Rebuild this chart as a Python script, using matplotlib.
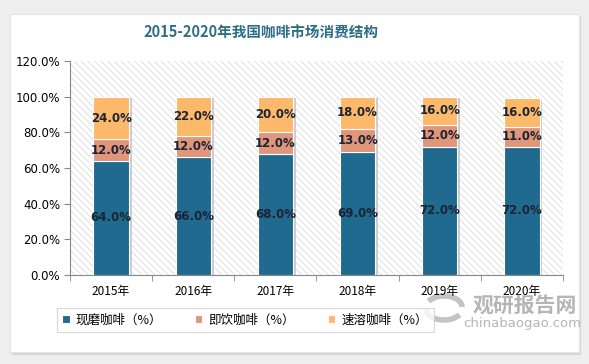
import matplotlib.pyplot as plt
from matplotlib.patches import Rectangle, Arc
import numpy as np

plt.rcParams["font.family"] = ["Noto Sans CJK SC", "DejaVu Sans"]
plt.rcParams["hatch.linewidth"] = 0.6

years = ["2015年", "2016年", "2017年", "2018年", "2019年", "2020年"]
fresh = [64, 66, 68, 69, 72, 72]      # 现磨咖啡
ready = [12, 12, 12, 13, 12, 11]      # 即饮咖啡
instant = [24, 22, 20, 18, 16, 16]    # 速溶咖啡
series_names = ["现磨咖啡（%）", "即饮咖啡（%）", "速溶咖啡（%）"]
colors = ["#1f6a8e", "#e0967a", "#fdb96a"]

W, H = 589, 364
fig = plt.figure(figsize=(W / 100, H / 100), dpi=100)
fig.patch.set_facecolor("#eeeeee")

# white card with a soft shadow
bg = fig.add_axes([0, 0, 1, 1])
bg.set_xlim(0, W)
bg.set_ylim(H, 0)
bg.axis("off")
bg.add_patch(Rectangle((12, 16), 569, 339, facecolor="#d6d6d6", edgecolor="none"))
bg.add_patch(Rectangle((10, 14), 569, 338, facecolor="white", edgecolor="#e4e4e4", lw=0.8))

# watermark logo (grey swirl)
bg.add_patch(Arc((444, 307), 36, 22, theta1=200, theta2=360, color="#c4c4c4", lw=4))
bg.add_patch(Arc((444, 309), 36, 22, theta1=20, theta2=180, color="#c4c4c4", lw=4))

fig.text(261 / W, 1 - 33 / H, "2015-2020年我国咖啡市场消费结构", ha="center", va="center",
         fontsize=10.5, fontweight="bold", color="#2d6e86")

ax = fig.add_axes([70 / W, 1 - 275 / H, 493 / W, 214 / H])
ax.set_facecolor("white")
ax.add_patch(Rectangle((0, 0), 1, 1, transform=ax.transAxes, facecolor="white",
                       edgecolor="#dcdcdc", linewidth=0, hatch="\\\\\\\\\\", zorder=0))

x = np.arange(len(years))
width = 0.43
bottoms = np.zeros(len(years))
for vals, col, name in zip([fresh, ready, instant], colors, series_names):
    vals = np.array(vals, dtype=float)
    # faint shadow to the right of each segment
    ax.bar(x + 0.035, vals, width, bottom=bottoms - 0.6, color="#cdcdcd", zorder=1, linewidth=0)
    ax.bar(x, vals, width, bottom=bottoms, color=col, edgecolor="white", linewidth=0.8,
           label=name, zorder=2)
    for xi, b, v in zip(x, bottoms, vals):
        ax.text(xi, b + v / 2, f"{v:.1f}%", ha="center", va="center", fontsize=8.5,
                fontweight="bold", color="#1c2433", zorder=3, family="DejaVu Sans")
    bottoms += vals

ax.set_xlim(-0.5, len(years) - 0.5)
ax.set_ylim(0, 120)
ax.set_yticks(np.arange(0, 121, 20))
ax.set_yticklabels([f"{v:.1f}%" for v in range(0, 121, 20)], fontsize=8.5,
                   family="DejaVu Sans")
ax.set_xticks(x)
ax.set_xticklabels(years, fontsize=8.5)
ax.set_xticks(np.arange(-0.5, len(years), 1), minor=True)
ax.tick_params(axis="x", which="major", length=0, pad=7)
ax.tick_params(axis="x", which="minor", length=4, color="#888888")
ax.tick_params(axis="y", length=4, color="#888888", pad=3)
for s in ["top", "right"]:
    ax.spines[s].set_visible(False)
ax.spines["left"].set_color("#888888")
ax.spines["bottom"].set_color("#888888")

leg = fig.legend(loc="center", bbox_to_anchor=(245 / W, 1 - 320 / H), ncol=3,
                 fontsize=9, frameon=True, fancybox=False, edgecolor="#d0d0d0",
                 handlelength=0.6, handleheight=0.6, handletextpad=0.5,
                 columnspacing=2.6, borderpad=0.45, borderaxespad=0)
leg.get_frame().set_linewidth(0.8)

# watermark text
fig.text(525 / W, 1 - 305 / H, "观研报告网", ha="center", va="center", fontsize=15,
         fontweight="bold", color="#a8a8a8", alpha=0.85)
fig.text(522 / W, 1 - 324 / H, "chinabaogao.com", ha="center", va="center", fontsize=9.5,
         color="#a8a8a8", alpha=0.85, family="DejaVu Sans")

fig.savefig("out.png", dpi=100)
